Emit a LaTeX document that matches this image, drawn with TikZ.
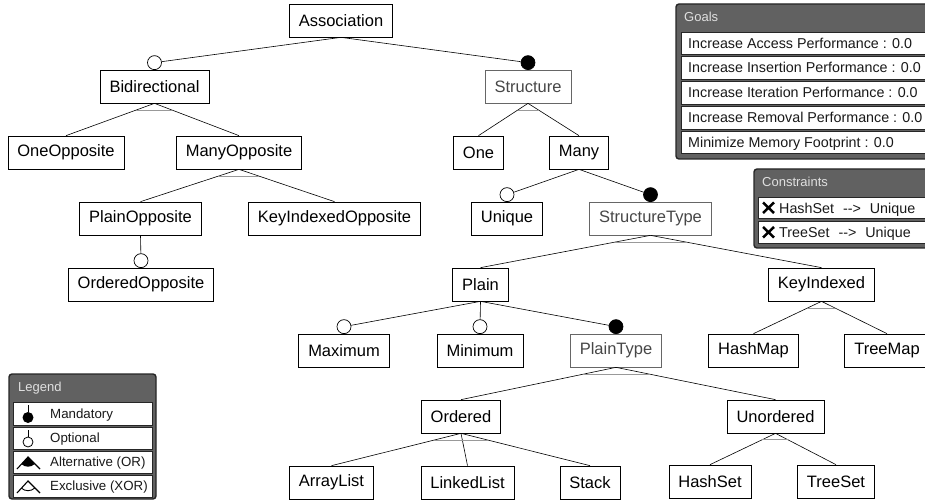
\documentclass[tikz,border=0pt]{standalone}
\usepackage{fontspec}
\setmainfont{Liberation Sans}
\usetikzlibrary{calc}

\begin{document}
\begin{tikzpicture}[x=1pt,y=-1pt,
        feat/.style={draw,line width=0.7pt,fill=white,minimum height=33pt,inner xsep=9.5pt,font=\fontsize{16.5}{19}\selectfont},
        absfeat/.style={feat,draw=black!60,text=black!72},
        optc/.style={circle,draw,line width=0.7pt,fill=white,inner sep=0pt,minimum size=14pt},
        mandc/.style={circle,draw,line width=0.7pt,fill=black,inner sep=0pt,minimum size=14pt},
        link/.style={line width=0.6pt},
        xorbar/.style={draw=black!40,line width=1pt},
        panel/.style={draw=black!85,fill=black!62,rounded corners=3pt,line width=1.4pt},
        paneltitle/.style={anchor=west,text=black!12,inner sep=0pt,text height=9.4pt,text depth=0pt,font=\fontsize{13}{15}\selectfont},
        row/.style={draw=black!85,fill=white,line width=0.9pt},
        rowtext/.style={anchor=west,inner sep=0pt,text=black!90,text height=10.2pt,text depth=0pt,font=\fontsize{14.3}{16}\selectfont},
        legtext/.style={anchor=west,inner sep=0pt,text=black!90,text height=9.5pt,text depth=0pt,font=\fontsize{13.3}{15}\selectfont}]
        \useasboundingbox (0,0) rectangle (925,502);
        \clip (0,0) rectangle (925,502);

        % features
        \node[feat] (assoc) at (341,20.5) {Association};
        \node[feat] (bidir) at (154.5,86.5) {Bidirectional};
        \node[absfeat] (struct) at (528,86.5) {Structure};
        \node[feat] (oneopp) at (66,152.5) {OneOpposite};
        \node[feat] (manyopp) at (239,152.5) {ManyOpposite};
        \node[feat] (one) at (478.5,152.5) {One};
        \node[feat] (many) at (579,152.5) {Many};
        \node[feat] (plainopp) at (140.5,218.5) {PlainOpposite};
        \node[feat] (keyopp) at (334.5,218.5) {KeyIndexedOpposite};
        \node[feat] (unique) at (507,218.5) {Unique};
        \node[absfeat] (structtype) at (650.5,218.5) {StructureType};
        \node[feat] (ordopp) at (141,284.5) {OrderedOpposite};
        \node[feat] (plain) at (480.5,284.5) {Plain};
        \node[feat] (keyidx) at (821.5,284.5) {KeyIndexed};
        \node[feat] (maximum) at (344,350.5) {Maximum};
        \node[feat] (minimum) at (480,350.5) {Minimum};
        \node[absfeat] (plaintype) at (616,350.5) {PlainType};
        \node[feat] (hashmap) at (753.5,350.5) {HashMap};
        \node[feat] (treemap) at (887,350.5) {TreeMap};
        \node[feat] (ordered) at (461,416.5) {Ordered};
        \node[feat] (unordered) at (775.5,416.5) {Unordered};
        \node[feat] (arraylist) at (331.5,482.5) {ArrayList};
        \node[feat] (linkedlist) at (467.5,482.5) {LinkedList};
        \node[feat] (stack) at (590,482.5) {Stack};
        \node[feat] (hashset) at (710,481.5) {HashSet};
        \node[feat] (treeset) at (836,481.5) {TreeSet};

        % optional / mandatory markers
        \node[optc] (c-bidir) at ([yshift=7pt]bidir.north) {};
        \node[mandc] (c-struct) at ([yshift=7pt]struct.north) {};
        \node[optc] (c-ordopp) at ([yshift=7pt]ordopp.north) {};
        \node[optc] (c-unique) at ([yshift=7pt]unique.north) {};
        \node[mandc] (c-structtype) at ([yshift=7pt]structtype.north) {};
        \node[optc] (c-maximum) at ([yshift=7pt]maximum.north) {};
        \node[optc] (c-minimum) at ([yshift=7pt]minimum.north) {};
        \node[mandc] (c-plaintype) at ([yshift=7pt]plaintype.north) {};

        % connectors
        \draw[link] (assoc.south) -- (c-bidir);
        \draw[link] (assoc.south) -- (c-struct);
        \draw[link] (bidir.south) -- (oneopp.north);
        \draw[link] (bidir.south) -- (manyopp.north);
        \draw[link] (struct.south) -- (one.north);
        \draw[link] (struct.south) -- (many.north);
        \draw[link] (manyopp.south) -- (plainopp.north);
        \draw[link] (manyopp.south) -- (keyopp.north);
        \draw[link] (plainopp.south) -- (c-ordopp);
        \draw[link] (many.south) -- (c-unique);
        \draw[link] (many.south) -- (c-structtype);
        \draw[link] (structtype.south) -- (plain.north);
        \draw[link] (structtype.south) -- (keyidx.north);
        \draw[link] (plain.south) -- (c-maximum);
        \draw[link] (plain.south) -- (c-minimum);
        \draw[link] (plain.south) -- (c-plaintype);
        \draw[link] (keyidx.south) -- (hashmap.north);
        \draw[link] (keyidx.south) -- (treemap.north);
        \draw[link] (plaintype.south) -- (ordered.north);
        \draw[link] (plaintype.south) -- (unordered.north);
        \draw[link] (ordered.south) -- (arraylist.north);
        \draw[link] (ordered.south) -- (linkedlist.north);
        \draw[link] (ordered.south) -- (stack.north);
        \draw[link] (unordered.south) -- (hashset.north);
        \draw[link] (unordered.south) -- (treeset.north);

        % exclusive groups
        \draw[xorbar] ($(bidir.south)!0.21!(oneopp.north)$) -- ($(bidir.south)!0.21!(manyopp.north)$);
        \draw[xorbar] ($(struct.south)!0.21!(one.north)$) -- ($(struct.south)!0.21!(many.north)$);
        \draw[xorbar] ($(manyopp.south)!0.21!(plainopp.north)$) -- ($(manyopp.south)!0.21!(keyopp.north)$);
        \draw[xorbar] ($(structtype.south)!0.21!(plain.north)$) -- ($(structtype.south)!0.21!(keyidx.north)$);
        \draw[xorbar] ($(keyidx.south)!0.21!(hashmap.north)$) -- ($(keyidx.south)!0.21!(treemap.north)$);
        \draw[xorbar] ($(plaintype.south)!0.21!(ordered.north)$) -- ($(plaintype.south)!0.21!(unordered.north)$);
        \draw[xorbar] ($(ordered.south)!0.21!(arraylist.north)$) -- ($(ordered.south)!0.21!(stack.north)$);
        \draw[xorbar] ($(unordered.south)!0.21!(hashset.north)$) -- ($(unordered.south)!0.21!(treeset.north)$);

        % goals
        \draw[panel] (676,4) rectangle (940,159);
        \node[paneltitle] (goals) at (684,17) {Goals};
        \draw[row] (681,32) rectangle (940,54);
        \draw[row] (681,56.5) rectangle (940,79);
        \draw[row] (681,81.5) rectangle (940,104);
        \draw[row] (681,106.5) rectangle (940,129);
        \draw[row] (681,131.5) rectangle (940,153.5);
        \node[rowtext] (g1) at (688,43) {Increase Access Performance : 0.0};
        \node[rowtext] (g2) at (688,67.5) {Increase Insertion Performance : 0.0};
        \node[rowtext] (g3) at (688,92.5) {Increase Iteration Performance : 0.0};
        \node[rowtext] (g4) at (688,117.5) {Increase Removal Performance : 0.0};
        \node[rowtext] (g5) at (688,142.5) {Minimize Memory Footprint : 0.0};

        % constraints
        \draw[panel] (754,169) rectangle (940,248);
        \node[paneltitle] (cons) at (762,182) {Constraints};
        \draw[row] (758,197) rectangle (940,218.5);
        \draw[row] (758,221) rectangle (940,243);
        \draw[line width=2.5pt] (763,202.5) -- (774,213) (763,213) -- (774,202.5);
        \draw[line width=2.5pt] (763,227) -- (774,237.5) (763,237.5) -- (774,227);
        \node[rowtext] (k1) at (779,208) {HashSet\hspace{9pt}-{}->\hspace{9pt}Unique};
        \node[rowtext] (k2) at (779,232.5) {TreeSet\hspace{9pt}-{}->\hspace{9pt}Unique};

        % legend
        \draw[panel] (9,374) rectangle (156,499);
        \node[paneltitle] (leg) at (18,387) {Legend};
        \draw[row] (13,402) rectangle (152,425);
        \draw[row] (13,427) rectangle (152,449);
        \draw[row] (13,451) rectangle (152,473);
        \draw[row] (13,475) rectangle (152,497);
        \draw[line width=0.8pt] (28,405) -- (28,412);
        \fill (28,417.5) circle (5.5);
        \draw[line width=0.8pt] (28,430) -- (28,437);
        \draw[line width=0.8pt,fill=white] (28,442) circle (5);
        \draw[line width=1.1pt] (17,469) -- (28,457) -- (40,469);
        \fill (28,457) -- (21.4,464.2) to[bend right=40] (34.6,464.2) -- cycle;
        \draw[line width=1.1pt] (17,493) -- (28,481) -- (40,493);
        \draw[line width=0.9pt] (21.4,488.2) to[bend right=40] (34.6,488.2);
        \node[legtext] (l1) at (50,413.5) {Mandatory};
        \node[legtext] (l2) at (50,438) {Optional};
        \node[legtext] (l3) at (50,462) {Alternative (OR)};
        \node[legtext] (l4) at (50,486) {Exclusive (XOR)};
    \end{tikzpicture}
\end{document}
